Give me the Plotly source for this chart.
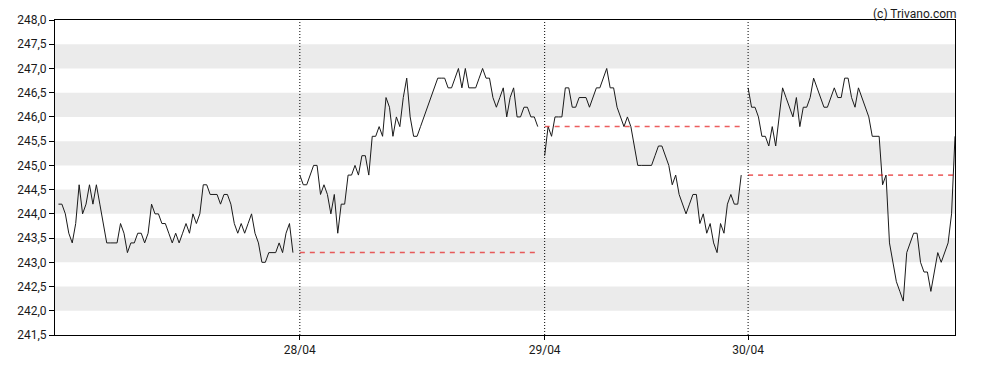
import numpy as np
import plotly.graph_objects as go

# --- data -------------------------------------------------------------
day_labels = ["27/04", "28/04", "29/04", "30/04"]
day_start_index = [1, 71, 142, 201]   # intraday sample index where each session starts

day1 = [244.2, 244.2, 244.0, 243.6, 243.4, 243.8, 244.6, 244.0, 244.2, 244.6,
        244.2, 244.6, 244.2, 243.8, 243.4, 243.4, 243.4, 243.4, 243.8, 243.6,
        243.2, 243.4, 243.4, 243.6, 243.6, 243.4, 243.6, 244.2, 244.0, 244.0,
        243.8, 243.8, 243.6, 243.4, 243.6, 243.4, 243.6, 243.8, 243.6, 244.0,
        243.8, 244.0, 244.6, 244.6, 244.4, 244.4, 244.4, 244.2, 244.4, 244.4,
        244.2, 243.8, 243.6, 243.8, 243.6, 243.8, 244.0, 243.6, 243.4, 243.0,
        243.0, 243.2, 243.2, 243.2, 243.4, 243.2, 243.6, 243.8, 243.2]

day2 = [244.8, 244.6, 244.6, 244.8, 245.0, 245.0, 244.4, 244.6, 244.4, 244.0,
        244.4, 243.6, 244.2, 244.2, 244.8, 244.8, 245.0, 244.8, 245.2, 245.2,
        244.8, 245.6, 245.6, 245.8, 245.6, 246.4, 246.2, 245.6, 246.0, 245.8,
        246.4, 246.8, 246.0, 245.6, 245.6, 245.8, 246.0, 246.2, 246.4, 246.6,
        246.8, 246.8, 246.8, 246.6, 246.6, 246.8, 247.0, 246.6, 247.0, 246.6,
        246.6, 246.6, 246.8, 247.0, 246.8, 246.8, 246.4, 246.2, 246.4, 246.6,
        246.0, 246.4, 246.6, 246.0, 246.0, 246.2, 246.2, 246.0, 246.0, 245.8]

day3 = [245.2, 245.8, 245.6, 246.0, 246.0, 246.0, 246.6, 246.6, 246.2, 246.2,
        246.4, 246.4, 246.4, 246.2, 246.4, 246.6, 246.6, 246.8, 247.0, 246.6,
        246.6, 246.2, 246.0, 245.8, 246.0, 245.8, 245.4, 245.0, 245.0, 245.0,
        245.0, 245.0, 245.2, 245.4, 245.4, 245.2, 245.0, 244.6, 244.8, 244.4,
        244.2, 244.0, 244.2, 244.4, 244.4, 243.8, 244.0, 243.6, 243.8, 243.4,
        243.2, 243.8, 243.6, 244.2, 244.4, 244.2, 244.2, 244.8]

day4 = [246.6, 246.2, 246.2, 246.0, 245.6, 245.6, 245.4, 245.8, 245.4, 246.0,
        246.6, 246.4, 246.2, 246.0, 246.4, 245.8, 246.2, 246.2, 246.4, 246.8,
        246.6, 246.4, 246.2, 246.2, 246.4, 246.6, 246.4, 246.4, 246.8, 246.8,
        246.4, 246.2, 246.6, 246.4, 246.2, 246.0, 245.6, 245.6, 245.6, 244.6,
        244.8, 243.4, 243.0, 242.6, 242.4, 242.2, 243.2, 243.4, 243.6, 243.6,
        243.0, 242.8, 242.8, 242.4, 242.8, 243.2, 243.0, 243.2, 243.4, 244.0,
        245.6]

days = [day1, day2, day3, day4]

y_tick_vals = [241.5, 242.0, 242.5, 243.0, 243.5, 244.0, 244.5, 245.0,
               245.5, 246.0, 246.5, 247.0, 247.5, 248.0]
y_tick_text = [f"{v:.1f}".replace(".", ",") for v in y_tick_vals]

x_axis_end = 261

# --- figure -----------------------------------------------------------
fig = go.Figure()

xs_all = []
for start, vals in zip(day_start_index, days):
    xs = list(np.arange(len(vals)) + start)
    xs_all.append(xs)
    fig.add_trace(go.Scatter(x=xs, y=vals, mode="lines",
                             line=dict(color="#1a1a1a", width=1),
                             showlegend=False, hoverinfo="skip"))

# previous-close reference lines (from day 2 onward)
ref_colors = [None, "rgba(230,40,40,0.75)", "rgba(230,40,40,0.75)", "#e00000"]
ref_widths = [0, 1.5, 1.5, 1]
for k in range(1, len(days)):
    prev_close = days[k - 1][-1]
    xs = xs_all[k]
    fig.add_trace(go.Scatter(x=[xs[0], xs[-1]], y=[prev_close, prev_close],
                             mode="lines",
                             line=dict(color=ref_colors[k], width=ref_widths[k],
                                       dash="5px,5px"),
                             showlegend=False, hoverinfo="skip"))

shapes = []
# alternating grey bands
for lo in np.arange(242.0, 248.0, 1.0):
    shapes.append(dict(type="rect", xref="paper", yref="y", x0=0, x1=1,
                       y0=lo, y1=lo + 0.5, fillcolor="#ebebeb",
                       line=dict(width=0), layer="below"))
# day separators
for s in day_start_index[1:]:
    shapes.append(dict(type="line", xref="x", yref="paper", x0=s, x1=s,
                       y0=0, y1=1, line=dict(color="#000000", width=1, dash="1px,2px")))

fig.update_layout(
    width=988, height=370,
    margin=dict(l=47, r=41, t=12, b=43, autoexpand=False),
    paper_bgcolor="white", plot_bgcolor="white",
    font=dict(family="Roboto, Arial, sans-serif", size=12, color="#1a1a1a"),
    shapes=shapes,
    xaxis=dict(range=[0, x_axis_end], tickvals=day_start_index[1:],
               ticktext=day_labels[1:], showgrid=False, zeroline=False,
               showline=True, linecolor="#000000", linewidth=1, mirror=True,
               ticks="outside", ticklen=4, tickcolor="#000000",
               tickfont=dict(size=12, color="#1a1a1a"), automargin=False),
    yaxis=dict(range=[241.5, 248.0], tickvals=y_tick_vals, ticktext=y_tick_text,
               showgrid=False, zeroline=False, showline=True,
               linecolor="#000000", linewidth=1, mirror=True,
               ticks="outside", ticklen=5, tickcolor="#000000",
               tickfont=dict(size=12, color="#1a1a1a"), automargin=False),
    annotations=[dict(text="(c) Trivano.com", xref="paper", yref="paper",
                      x=1, y=1, xanchor="right", yanchor="top",
                      xshift=3, yshift=14, showarrow=False, borderpad=0,
                      font=dict(size=12, color="#1a1a1a"))],
)

fig.write_html("out.html")
